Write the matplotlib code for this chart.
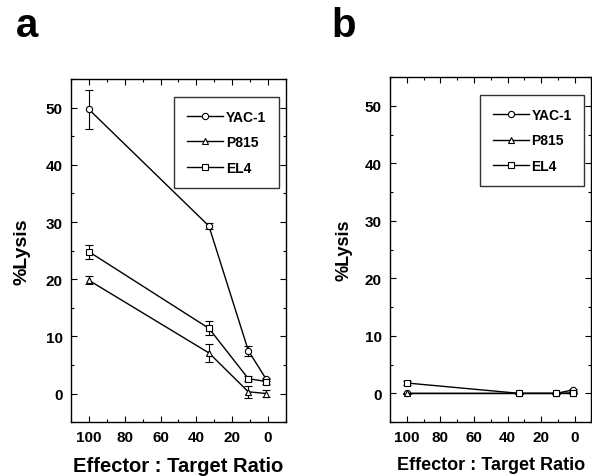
import matplotlib

matplotlib.use("Agg")
import matplotlib.pyplot as plt  # noqa: E402
from matplotlib.ticker import MultipleLocator  # noqa: E402

plt.rcParams["font.family"] = ["Liberation Sans", "DejaVu Sans"]
plt.rcParams["font.weight"] = "bold"

# effector : target ratios
ratio = [100, 33, 11, 1]

# panel a
yac1_a = [49.7, 29.3, 7.5, 2.5]
yac1_a_err = [3.4, 0.5, 0.9, 0.3]
p815_a = [19.8, 7.1, 0.3, 0.0]
p815_a_err = [0.7, 1.6, 1.0, 0.6]
el4_a = [24.8, 11.4, 2.6, 2.1]
el4_a_err = [1.2, 1.2, 0.4, 0.4]

# panel b
yac1_b = [0.0, 0.0, 0.0, 0.6]
yac1_b_err = [0.1, 0.1, 0.1, 0.2]
p815_b = [0.0, 0.0, 0.0, 0.0]
p815_b_err = [0.1, 0.1, 0.1, 0.1]
el4_b = [1.8, 0.0, 0.0, 0.1]
el4_b_err = [0.4, 0.1, 0.1, 0.1]

series_a = [("YAC-1", "o", yac1_a, yac1_a_err),
            ("P815", "^", p815_a, p815_a_err),
            ("EL4", "s", el4_a, el4_a_err)]
series_b = [("YAC-1", "o", yac1_b, yac1_b_err),
            ("P815", "^", p815_b, p815_b_err),
            ("EL4", "s", el4_b, el4_b_err)]


def draw_panel(ax, series, xlab_size, ylab_size, ylab_pad):
    for name, mk, vals, err in series:
        ax.errorbar(ratio, vals, yerr=err, color="black", lw=1.0, marker=mk,
                    ms=4.5, mfc="white", mec="black", mew=0.8,
                    ecolor="black", elinewidth=0.8, capsize=3, capthick=0.8,
                    label=name)
    ax.set_xlim(110, -10)
    ax.set_ylim(-5, 55)
    ax.xaxis.set_major_locator(MultipleLocator(20))
    ax.xaxis.set_minor_locator(MultipleLocator(10))
    ax.yaxis.set_major_locator(MultipleLocator(10))
    ax.yaxis.set_minor_locator(MultipleLocator(5))
    ax.tick_params(which="both", direction="in", top=True, right=True,
                   labelsize=11, width=0.8)
    ax.tick_params(which="major", length=4, pad=6)
    ax.tick_params(which="minor", length=2)
    for lab in ax.get_xticklabels() + ax.get_yticklabels():
        lab.set_fontweight("bold")
    for sp in ax.spines.values():
        sp.set_linewidth(1.0)
    ax.set_xlabel("Effector : Target Ratio", fontsize=xlab_size,
                  fontweight="bold", labelpad=8)
    ax.set_ylabel("%Lysis", fontsize=ylab_size, fontweight="bold",
                  labelpad=ylab_pad)
    handles, labels = ax.get_legend_handles_labels()
    handles = [h[0] for h in handles]
    leg = ax.legend(handles, labels, loc="upper right",
                    bbox_to_anchor=(0.985, 0.96), frameon=True,
                    fancybox=False, edgecolor="black", handlelength=2.6,
                    handletextpad=0.2, labelspacing=0.85, borderpad=0.9,
                    borderaxespad=0.3, prop={"weight": "bold", "size": 10})
    leg.get_frame().set_linewidth(1.0)


fig = plt.figure(figsize=(5.92, 4.77), dpi=100)
ax_a = fig.add_axes([0.120, 0.113, 0.363, 0.719])
ax_b = fig.add_axes([0.659, 0.113, 0.340, 0.723])
draw_panel(ax_a, series_a, 14.5, 14, 11)
draw_panel(ax_b, series_b, 13, 13, 9)

fig.text(0.045, 0.945, "a", fontsize=29, fontweight="bold", va="center", ha="center")
fig.text(0.580, 0.945, "b", fontsize=29, fontweight="bold", va="center", ha="center")

fig.savefig("out.png", dpi=100)
